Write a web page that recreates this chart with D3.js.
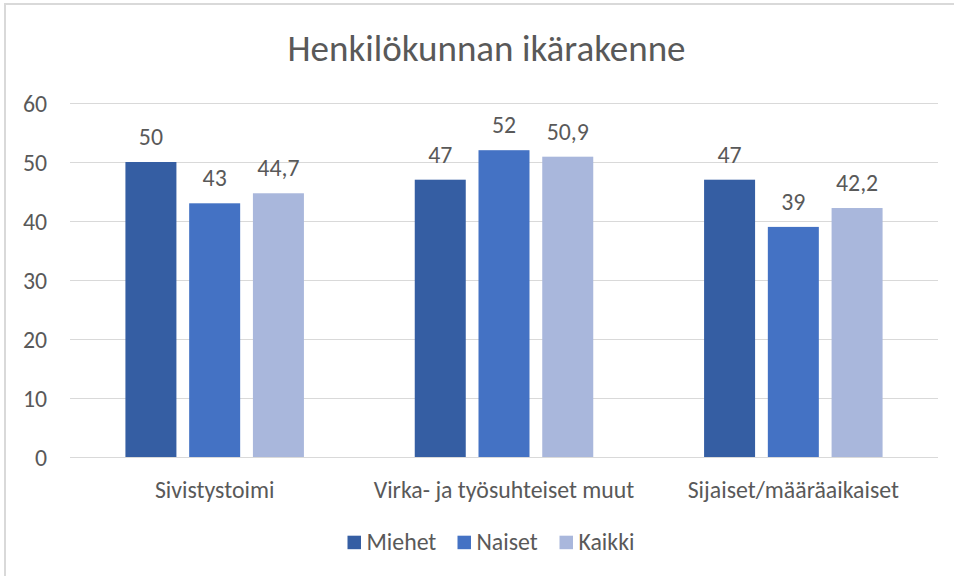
<!DOCTYPE html>
<html><head><meta charset="utf-8">
<script src="https://cdn.jsdelivr.net/npm/d3@7"></script>
<style>
body{margin:0;background:#fff;}
text{font-family:Carlito,Lato,sans-serif;fill:#595959;}
</style></head>
<body><svg id="c" width="954" height="576"></svg>
<script>
const categories = ["Sivistystoimi", "Virka- ja työsuhteiset muut", "Sijaiset/määräaikaiset"];
const series = ["Miehet", "Naiset", "Kaikki"];
const miehet = [50, 47, 47];
const naiset = [43, 52, 39];
const kaikki = [44.7, 50.9, 42.2];
const yTicks = [0, 10, 20, 30, 40, 50, 60];
const colors = ["#355EA3", "#4472C4", "#A9B7DC"];
const values = [miehet, naiset, kaikki];

const svg = d3.select("#c");
svg.append("rect").attr("x",5).attr("y",4).attr("width",960).attr("height",600)
  .attr("fill","#fff").attr("stroke","#d9d9d9").attr("stroke-width",2);

const pL = 70, pR = 938, pT = 103, pB = 457;
const fs = "23.8px";
const y = d3.scaleLinear().domain([0,60]).range([pB, pT]);
const x0 = d3.scaleBand().domain(categories).range([pL, pR]);
const groupW = 178.5;
const x1 = d3.scaleBand().domain(series).range([0, groupW]).paddingInner(0.2);

svg.append("text").attr("x",486.5).attr("y",61).attr("text-anchor","middle")
  .style("font-size","37px").text("Henkilökunnan ikärakenne");

// grid
svg.append("g").selectAll("line").data(yTicks).join("line")
  .attr("x1",pL).attr("x2",pR).attr("y1",d=>y(d)+0.5).attr("y2",d=>y(d)+0.5)
  .attr("stroke","#d9d9d9").attr("stroke-width",1);
svg.append("g").selectAll("text").data(yTicks).join("text")
  .attr("x",47).attr("y",d=>y(d)+8.5).attr("text-anchor","end")
  .style("font-size",fs).text(d=>d);

const off = (x0.bandwidth()-groupW)/2;
series.forEach((s,si)=>{
  const g = svg.append("g");
  g.selectAll("rect").data(categories).join("rect")
    .attr("x",(c)=>x0(c)+off+x1(s)).attr("width",x1.bandwidth())
    .attr("y",(c,i)=>y(values[si][i])).attr("height",(c,i)=>pB - y(values[si][i]))
    .attr("fill",colors[si]);
  g.selectAll("text").data(categories).join("text")
    .attr("x",(c)=>x0(c)+off+x1(s)+x1.bandwidth()/2)
    .attr("y",(c,i)=>y(values[si][i])-17).attr("text-anchor","middle")
    .style("font-size",fs).text((c,i)=>String(values[si][i]).replace(".",","));
});
// axis line
svg.append("line").attr("x1",pL).attr("x2",pR).attr("y1",pB+0.5).attr("y2",pB+0.5)
  .attr("stroke","#d9d9d9");
svg.append("g").selectAll("text").data(categories).join("text")
  .attr("x",c=>x0(c)+x0.bandwidth()/2).attr("y",498).attr("text-anchor","middle")
  .style("font-size",fs).text(c=>c);

// legend
const legX = [347.5, 457.5, 559.5];
const lg = svg.append("g");
series.forEach((s,i)=>{
  lg.append("rect").attr("x",legX[i]).attr("y",535.7).attr("width",13.5).attr("height",13.5).attr("fill",colors[i]);
  lg.append("text").attr("x",legX[i]+19).attr("y",550).style("font-size",fs).text(s);
});
</script></body></html>
